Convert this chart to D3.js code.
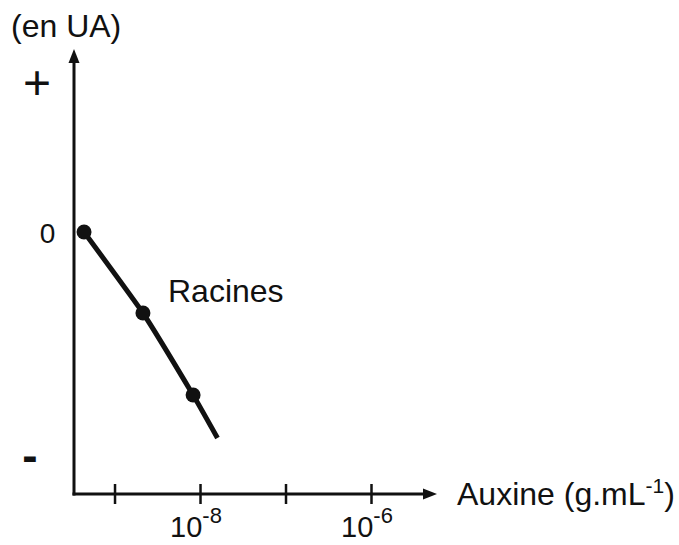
<!DOCTYPE html>
<html>
<head>
<meta charset="utf-8">
<script src="https://cdn.jsdelivr.net/npm/d3@7"></script>
<style>
  html, body { margin: 0; padding: 0; background: #fff; }
  svg { display: block; }
  text { font-family: "Liberation Sans", Arial, Helvetica, sans-serif; fill: #111; }
</style>
</head>
<body>
<svg id="chart" width="679" height="545"></svg>
<script>
// ---- data ----
const titreY = "(en UA)";
const titreX = "Auxine (g.mL";
const titreXExposant = "-1";
const serieNom = "Racines";
// auxin concentration (g/mL) and effect (arbitrary units)
const concentrations = [4.4e-10, 2.15e-9, 8.3e-9, 1.6e-8];
const effets = [0, -0.81, -1.63, -2.06];
const pointsMesures = [true, true, true, false];
// x ticks
const xTicks = [1e-9, 1e-8, 1e-7, 1e-6];
const xTickLabels = ["", "-8", "", "-6"];
// y labels
const yTickValues = [1.5, 0, -2.27];
const yTickLabels = ["+", "0", "-"];

// ---- layout ----
const x0 = 74, xEnd = 437, yBase = 494, yTop = 49;

const x = d3.scaleLog()
  .domain([Math.pow(10, -9.474), Math.pow(10, -5.228)])
  .range([x0, xEnd]);
const y = d3.scaleLinear()
  .domain([-2.62, 1.83])
  .range([yBase, yTop]);

const svg = d3.select("#chart");

// y title
svg.append("text").attr("x", 11).attr("y", 37)
  .attr("font-size", 32).text(titreY);

// axes lines
svg.append("line").attr("x1", x0).attr("y1", yBase + 1.5).attr("x2", x0).attr("y2", yTop + 10)
  .attr("stroke", "#111").attr("stroke-width", 3);
svg.append("line").attr("x1", x0 - 1.5).attr("y1", yBase).attr("x2", xEnd - 10).attr("y2", yBase)
  .attr("stroke", "#111").attr("stroke-width", 3);
// arrow heads
svg.append("path")
  .attr("d", `M${x0},${yTop} L${x0 - 5.5},${yTop + 14} L${x0 + 5.5},${yTop + 14} Z`)
  .attr("fill", "#111");
svg.append("path")
  .attr("d", `M${xEnd},${yBase} L${xEnd - 14},${yBase - 5.5} L${xEnd - 14},${yBase + 5.5} Z`)
  .attr("fill", "#111");

// x axis ticks via d3 axis
const xAxis = d3.axisBottom(x).tickValues(xTicks).tickSize(10).tickFormat("");
const gx = svg.append("g").attr("transform", `translate(0,${yBase})`).call(xAxis);
gx.select(".domain").remove();
gx.selectAll(".tick line").attr("y1", -10).attr("y2", 10)
  .attr("stroke", "#111").attr("stroke-width", 2.5);

// x tick labels with exponents
xTicks.forEach((t, i) => {
  if (!xTickLabels[i]) return;
  const tx = svg.append("text")
    .attr("x", x(t) - 4).attr("y", 537)
    .attr("text-anchor", "middle")
    .attr("font-size", 29);
  tx.append("tspan").text("10");
  tx.append("tspan").attr("dy", -14).attr("font-size", 22).text(xTickLabels[i]);
});

// x title
const xt = svg.append("text").attr("x", 457).attr("y", 505).attr("font-size", 32);
xt.append("tspan").text(titreX);
xt.append("tspan").attr("dy", -12).attr("font-size", 21).text(titreXExposant);
xt.append("tspan").attr("dy", 12).text(")");

// y labels
const yLab = [
  { v: yTickValues[0], t: yTickLabels[0], fs: 48, w: "normal", x: 37, off: 17 },
  { v: yTickValues[1], t: yTickLabels[1], fs: 28, w: "normal", x: 47.5, off: 10.5 },
  { v: yTickValues[2], t: yTickLabels[2], fs: 46, w: "bold", x: 30, off: 12 }
];
yLab.forEach(d => {
  svg.append("text").attr("x", d.x).attr("y", y(d.v) + d.off)
    .attr("text-anchor", "middle").attr("font-size", d.fs).attr("font-weight", d.w)
    .text(d.t);
});

// series
const data = concentrations.map((c, i) => ({ c, e: effets[i], m: pointsMesures[i] }));
const line = d3.line().x(d => x(d.c)).y(d => y(d.e)).curve(d3.curveCardinal.tension(0.6));
svg.append("path").datum(data).attr("d", line)
  .attr("fill", "none").attr("stroke", "#111").attr("stroke-width", 5)
  .attr("stroke-linecap", "butt");
svg.selectAll("circle.pt").data(data.filter(d => d.m)).enter()
  .append("circle").attr("class", "pt")
  .attr("cx", d => x(d.c)).attr("cy", d => y(d.e)).attr("r", 7.5)
  .attr("fill", "#111");

// series label
svg.append("text").attr("x", 168).attr("y", 302).attr("font-size", 32).text(serieNom);
</script>
</body>
</html>
